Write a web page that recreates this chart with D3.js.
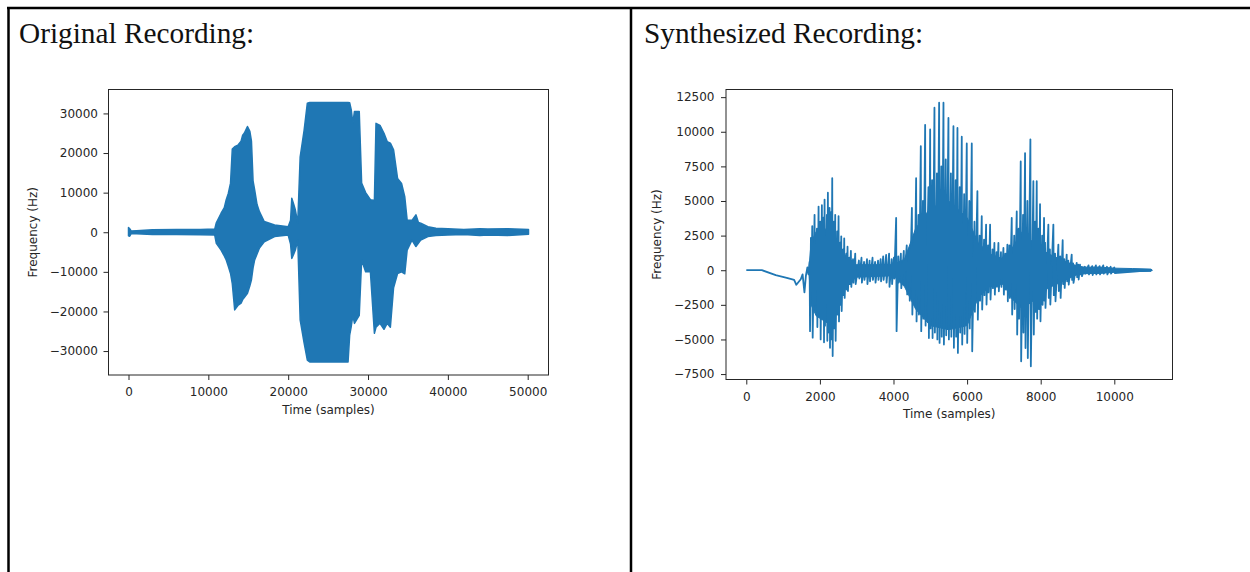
<!DOCTYPE html>
<html>
<head>
<meta charset="utf-8">
<script src="https://cdn.jsdelivr.net/npm/d3@7"></script>
<style>
    body { margin: 0; background: #fff; }
    .tick text { font-family: "DejaVu Sans", sans-serif; font-size: 12px; fill: #262626; }
    .tick line { stroke: #262626; stroke-width: 1; }
    .axis-label { font-family: "DejaVu Sans", sans-serif; font-size: 12px; fill: #262626; }
    .panel-title { font-family: "Liberation Serif", "Times New Roman", serif; font-size: 29.3px; fill: #111; }
    .frame { stroke: #000; stroke-width: 2.5; }
    .spine { fill: none; stroke: #262626; stroke-width: 1; }
</style>
</head>
<body>
<svg id="chart" width="1250" height="572"></svg>
<script>
// ---- data ----
const panelTitles = ['Original Recording:', 'Synthesized Recording:'];
const xLabel = 'Time (samples)';
const yLabel = 'Frequency (Hz)';

// original recording: upper / lower envelope of the waveform [sample, hi, lo]
const originalEnvelope = [
    [0, 1200, -900], [150, 900, -1000], [350, 300, -300], [1000, 400, -350],
    [3000, 600, -550], [6000, 700, -600], [9000, 700, -650], [10800, 800, -700],
    [11000, 2400, -2800], [11600, 4800, -4500], [12000, 6200, -6000], [12240, 8200, -7000],
    [12500, 9800, -8600], [12780, 12400, -10400], [13000, 21000, -13000], [13300, 21600, -19600],
    [13700, 22000, -18500], [14100, 23000, -17900], [14300, 24500, -17000], [14500, 25000, -16500],
    [14900, 26700, -15400], [15200, 25500, -13500], [15400, 23000, -12000], [15600, 13000, -9000],
    [15800, 10700, -7000], [16100, 7000, -5500], [16400, 5200, -4000], [17000, 2700, -2400],
    [18300, 1850, -1100], [20000, 1400, -700], [20300, 3000, -3000], [20450, 8600, -6600],
    [20700, 7000, -5500], [20900, 5600, -4500], [21200, 2300, -1900], [21500, 19000, -22100],
    [22000, 25800, -28000], [22400, 32600, -32300], [22700, 32767, -32768], [27500, 32767, -32768],
    [27700, 32700, -26000], [27900, 30900, -23800], [28100, 27500, -21000], [28300, 30500, -23000],
    [28900, 30500, -21000], [29200, 12400, -7000], [29700, 10000, -10000], [30300, 8200, -10000],
    [30800, 8000, -25500], [31000, 27500, -24000], [31500, 27000, -23000], [32000, 25000, -24500],
    [32400, 22900, -23000], [32800, 22500, -24000], [33200, 20800, -14000], [33700, 13600, -10400],
    [34200, 12300, -10000], [34600, 9000, -10500], [34900, 3100, -4500], [35500, 3000, -2000],
    [36000, 4400, -3600], [36300, 2500, -2800], [36600, 2300, -2000], [37500, 1400, -1100],
    [38500, 1000, -800], [40000, 900, -700], [42000, 700, -600], [44000, 900, -800],
    [45000, 800, -700], [47500, 900, -800], [50100, 700, -500]
];

// synthesized recording: slow lead-in before voicing starts [sample, value]
const synthLead = [
    [0, 0], [425, 0], [800, -350], [1100, -550], [1300, -700], [1360, -1050],
    [1420, -850], [1480, -650], [1530, -300], [1580, -1600], [1620, -400], [1660, 200], [1690, -300]
];

// synthesized recording: pitch spikes [sample, peak, trough]
const synthSpikes = [
    [1720, 600, -4400], [1756, 2340, -1500], [1792, 3180, -4870], [1855, 4000, -2500],
    [1919, 3000, -4100], [1964, 4600, -3000], [2009, 3500, -5000], [2054, 4700, -3500],
    [2100, 3800, -5200], [2127, 5100, -4000], [2190, 4000, -5100], [2217, 5600, -4500],
    [2263, 4500, -5600], [2300, 4200, -5000], [2335, 6650, -6200], [2380, 3500, -4200],
    [2416, 4000, -5100], [2470, 2800, -3200], [2507, 3900, -3700], [2550, 2000, -2500],
    [2580, 2450, -2950], [2630, 1500, -1800], [2661, 2300, -2000], [2720, 1200, -1400],
    [2751, 1700, -1500], [2800, 900, -1000], [2842, 1400, -1200], [2900, 800, -900],
    [2960, 1200, -1000], [3060, 700, -600], [3130, 900, -900], [3200, 600, -700],
    [3280, 800, -1000], [3350, 700, -800], [3430, 900, -700], [3500, 600, -900],
    [3580, 700, -700], [3650, 800, -800], [3720, 1000, -700], [3800, 1100, -900],
    [3880, 1200, -1200], [3950, 800, -1000], [4010, 900, -600], [4072, 3770, -4400],
    [4130, 1000, -900], [4200, 1200, -1300], [4280, 1400, -1000], [4360, 1800, -1750],
    [4430, 1500, -2200], [4500, 4500, -3200], [4560, 2500, -2000], [4615, 6650, -3700],
    [4679, 4000, -3200], [4742, 8960, -4400], [4800, 5000, -3500], [4860, 10500, -4000],
    [4950, 6000, -4900], [4996, 10170, -4200], [5050, 6500, -4900], [5113, 11740, -4500],
    [5180, 7000, -5000], [5240, 12100, -5250], [5300, 7500, -4800], [5358, 12100, -5370],
    [5420, 8000, -4700], [5493, 11000, -5000], [5560, 7000, -4800], [5629, 10400, -5600],
    [5690, 6500, -4800], [5738, 10270, -5970], [5800, 6000, -4500], [5855, 9640, -5370],
    [5920, 5500, -4600], [5991, 9160, -5250], [6060, 5000, -4200], [6127, 9160, -5850],
    [6200, 3500, -3000], [6280, 5710, -3570], [6340, 2500, -2200], [6398, 3900, -2840],
    [6460, 2200, -1800], [6516, 3300, -2480], [6570, 1800, -1600], [6625, 3300, -2120],
    [6690, 1500, -1300], [6742, 1970, -1760], [6800, 1300, -1200], [6851, 1970, -1520],
    [6920, 1300, -1200], [6987, 1610, -1760], [7040, 1200, -1400], [7095, 1850, -2240],
    [7150, 1800, -2000], [7213, 3780, -3200], [7280, 2500, -2800], [7349, 4240, -4650],
    [7400, 3000, -3500], [7457, 7860, -6580], [7520, 4000, -4500], [7575, 8460, -5620],
    [7638, 5000, -6340], [7720, 9450, -6940], [7801, 6430, -4650], [7850, 3500, -3000],
    [7892, 6430, -3500], [7940, 3000, -2800], [7982, 4770, -3690], [8040, 2500, -2500],
    [8091, 3780, -2200], [8118, 2000, -2720], [8208, 3300, -2000], [8250, 1500, -2480],
    [8344, 3300, -1800], [8390, 1200, -2240], [8480, 1850, -1500], [8530, 1000, -2000],
    [8597, 2170, -1000], [8640, 800, -1280], [8706, 1130, -800], [8750, 700, -1040],
    [8842, 1130, -700], [8880, 500, -920], [8978, 530, -500], [9020, 400, -670],
    [9068, 410, -300], [9110, 200, -430], [9200, 250, -250], [9300, 350, -300],
    [9400, 300, -350], [9500, 350, -300], [9600, 300, -300], [9700, 350, -250],
    [9800, 250, -300], [9900, 250, -250], [10000, 200, -200]
];
const synthEnd = [11030, 0];

// synthesized recording: dense (solid) core between the spikes [sample, hi, lo]
const synthCore = [
    [1700, 0, 0], [1760, 2000, -2500], [1900, 2800, -3300], [2200, 3000, -3800],
    [2450, 2300, -2800], [2650, 1200, -1500], [2900, 600, -700], [3000, 400, -500],
    [4000, 400, -400], [4300, 800, -1200], [4600, 3000, -2800], [5000, 4500, -4000],
    [5500, 5000, -4300], [6000, 3800, -4000], [6300, 2000, -2000], [6600, 1200, -1200],
    [7000, 800, -1000], [7200, 1500, -2000], [7500, 2800, -2800], [7800, 2000, -2200],
    [8200, 1200, -1300], [8600, 700, -800], [9000, 300, -300], [9200, 220, -250],
    [9600, 230, -230], [10000, 150, -150], [10500, 120, -100], [11000, 80, -80], [11030, 0, 0]
];

// tick values
const originalXTicks = [0, 10000, 20000, 30000, 40000, 50000];
const originalYTicks = [-30000, -20000, -10000, 0, 10000, 20000, 30000];
const synthXTicks = [0, 2000, 4000, 6000, 8000, 10000];
const synthYTicks = [-7500, -5000, -2500, 0, 2500, 5000, 7500, 10000, 12500];

const lineColor = '#1f77b4';

const svg = d3.select('#chart');

// table frame round the two cells
svg.append('line').attr('class', 'frame').attr('x1', 7).attr('x2', 1250).attr('y1', 8).attr('y2', 8);
svg.append('line').attr('class', 'frame').attr('x1', 8.5).attr('x2', 8.5).attr('y1', 7).attr('y2', 572);
svg.append('line').attr('class', 'frame').attr('x1', 631).attr('x2', 631).attr('y1', 7).attr('y2', 572);

svg.append('text').attr('class', 'panel-title').attr('x', 19).attr('y', 43).text(panelTitles[0]);
svg.append('text').attr('class', 'panel-title').attr('x', 644).attr('y', 43).text(panelTitles[1]);

/**
 * matplotlib-style 5% margin on a data extent
 */
function padded([a, b]) {
    const m = (b - a) * 0.05;
    return [a - m, b + m];
}

/**
 * Draw one axes box with its ticks and labels, return the scales
 */
function drawAxes(box, tExtent, vExtent, xTicks, yTicks, opts) {
    const x = d3.scaleLinear().domain(padded(tExtent)).range([box.left, box.left + box.width]);
    const y = d3.scaleLinear().domain(padded(vExtent)).range([box.top + box.height, box.top]);
    const fmt = d3.format('d');

    const g = svg.append('g');

    g.append('g')
        .attr('transform', `translate(0,${box.top + box.height})`)
        .call(d3.axisBottom(x).tickValues(xTicks).tickFormat(fmt).tickSize(5).tickSizeOuter(0).tickPadding(opts.xPad))
        .call(a => a.select('.domain').remove());

    g.append('g')
        .attr('transform', `translate(${box.left},0)`)
        .call(d3.axisLeft(y).tickValues(yTicks).tickFormat(fmt).tickSize(5).tickSizeOuter(0).tickPadding(opts.yPad))
        .call(a => a.select('.domain').remove());

    g.selectAll('.tick text').attr('font-family', null).attr('font-size', null).attr('fill', null);

    g.append('rect')
        .attr('class', 'spine')
        .attr('x', box.left).attr('y', box.top)
        .attr('width', box.width).attr('height', box.height);

    g.append('text')
        .attr('class', 'axis-label')
        .attr('text-anchor', 'middle')
        .attr('x', box.left + box.width / 2)
        .attr('y', box.top + box.height + opts.xLabelGap)
        .text(xLabel);

    g.append('text')
        .attr('class', 'axis-label')
        .attr('text-anchor', 'middle')
        .attr('transform', `translate(${opts.yLabelX},${box.top + box.height / 2}) rotate(-90)`)
        .text(yLabel);

    return { x, y, g };
}

// ===== Original recording =====
const orig = drawAxes(
    { left: 108.5, top: 89.5, width: 440, height: 285.5 },
    [0, 50100], [-32768, 32767],
    originalXTicks, originalYTicks,
    { xPad: 7.5, yPad: 5.5, xLabelGap: 39, yLabelX: 36.5 }
);

orig.g.insert('path', 'rect')
    .datum(originalEnvelope)
    .attr('fill', lineColor)
    .attr('stroke', lineColor)
    .attr('stroke-width', 1.5)
    .attr('stroke-linejoin', 'round')
    .attr('d', d3.area()
        .x(d => orig.x(d[0]))
        .y0(d => orig.y(d[2]))
        .y1(d => orig.y(d[1])));

// ===== Synthesized recording =====
const synth = drawAxes(
    { left: 726, top: 89.5, width: 446.5, height: 290 },
    [0, 11030], [-6940, 12100],
    synthXTicks, synthYTicks,
    { xPad: 7.5, yPad: 6.5, xLabelGap: 38.5, yLabelX: 661 }
);

synth.g.insert('path', 'rect')
    .datum(synthCore)
    .attr('fill', lineColor)
    .attr('stroke', lineColor)
    .attr('stroke-width', 1)
    .attr('d', d3.area()
        .x(d => synth.x(d[0]))
        .y0(d => synth.y(d[2]))
        .y1(d => synth.y(d[1])));

// each spike: up to its peak, then straight down to its trough
const synthPoints = synthLead.slice();
synthSpikes.forEach(([t, hi, lo]) => {
    synthPoints.push([t, hi]);
    synthPoints.push([t + 12, lo]);
});
synthPoints.push(synthEnd);

synth.g.insert('path', 'rect')
    .datum(synthPoints)
    .attr('fill', 'none')
    .attr('stroke', lineColor)
    .attr('stroke-width', 1.8)
    .attr('stroke-linejoin', 'round')
    .attr('d', d3.line()
        .x(d => synth.x(d[0]))
        .y(d => synth.y(d[1])));
</script>
</body>
</html>
